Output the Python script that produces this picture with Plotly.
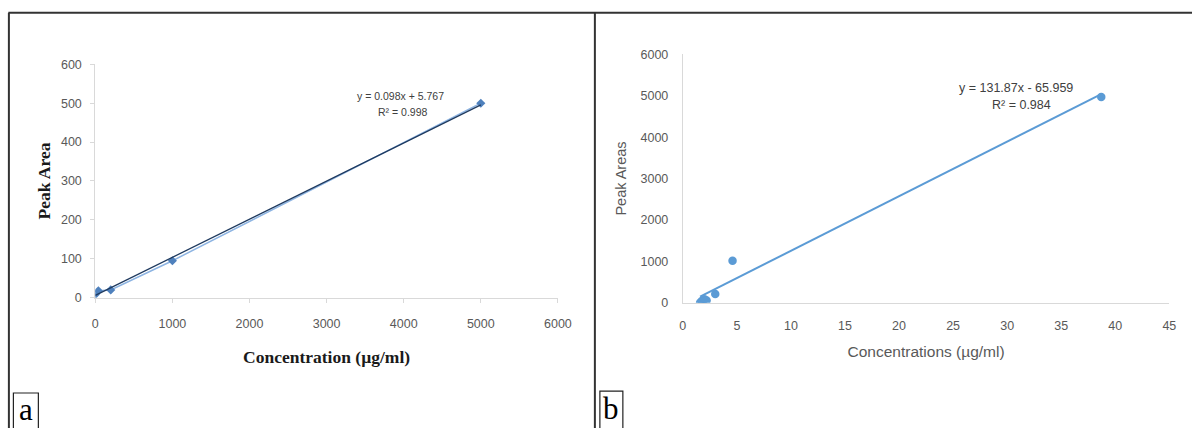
import plotly.graph_objects as go

W, H = 1192, 428

# Panel a data
conc_a = [0, 40, 200, 1000, 5000]
area_a = [8, 18, 20, 95, 500]
slope_a, icpt_a = 0.098, 5.767
xtick_a = [0, 1000, 2000, 3000, 4000, 5000, 6000]
ytick_a = [0, 100, 200, 300, 400, 500, 600]

# Panel b data
conc_b = [1.6, 1.75, 2.0, 2.2, 3.0, 4.6, 38.7]
area_b = [0, 40, 80, 50, 210, 1010, 4970]
slope_b, icpt_b = 131.87, -65.959
xtick_b = [0, 5, 10, 15, 20, 25, 30, 35, 40, 45]
ytick_b = [0, 1000, 2000, 3000, 4000, 5000, 6000]

# screen-position correction for the capture
AX, BX = 2.6, 0.9866
AY, BY = 5.3, 0.974


def px(x):
    return (x - AX) / BX / W


def py(y):
    return 1 - (y - AY) / BY / H


fig = go.Figure()

# Panel a: data series with diamonds
fig.add_trace(go.Scatter(
    x=conc_a, y=area_a, mode="lines+markers", xaxis="x", yaxis="y",
    line=dict(color="#8DB4E2", width=1.5),
    marker=dict(symbol="diamond", size=7, color="#4F81BD"),
    showlegend=False, name="Peak Area"))
# Panel a: trendline
tx_a = [min(conc_a), max(conc_a)]
fig.add_trace(go.Scatter(
    x=tx_a, y=[slope_a * v + icpt_a for v in tx_a], mode="lines",
    xaxis="x", yaxis="y", line=dict(color="#1F3A5F", width=1.3),
    showlegend=False, name="Linear"))

# Panel b: scatter
fig.add_trace(go.Scatter(
    x=conc_b, y=area_b, mode="markers", xaxis="x2", yaxis="y2",
    marker=dict(symbol="circle", size=8.5, color="#5B9BD5"),
    showlegend=False, name="Peak Areas"))
tx_b = [min(conc_b), max(conc_b)]
fig.add_trace(go.Scatter(
    x=tx_b, y=[slope_b * v + icpt_b for v in tx_b], mode="lines",
    xaxis="x2", yaxis="y2", line=dict(color="#5B9BD5", width=2),
    showlegend=False, name="Linear (Peak Areas)"))

tickfont = dict(family="Liberation Sans", size=12.5, color="#595959")
axis_common = dict(showgrid=False, zeroline=False, showline=True,
                   linecolor="#D9D9D9", linewidth=1, tickfont=tickfont)

fig.update_layout(
    autosize=True, margin=dict(l=0, r=0, t=0, b=0),
    paper_bgcolor="white", plot_bgcolor="white",
    xaxis=dict(domain=[px(95), px(558)], range=[0, 6000], tickvals=xtick_a,
               anchor="y", ticks="outside", ticklen=4, tickcolor="#D9D9D9",
               ticklabelstandoff=10,
               title=dict(text="Concentration (µg/ml)", standoff=21,
                          font=dict(family="Liberation Serif", size=17.5,
                                    color="#1a1a1a", weight="bold")),
               **axis_common),
    yaxis=dict(domain=[py(298), py(63)], range=[0, 600], tickvals=ytick_a,
               anchor="x", ticks="outside", ticklen=4, tickcolor="#D9D9D9",
               ticklabelstandoff=6,
               title=dict(text="Peak Area", standoff=5,
                          font=dict(family="Liberation Serif", size=17.5,
                                    color="#1a1a1a", weight="bold")),
               **axis_common),
    xaxis2=dict(domain=[px(683), px(1170)], range=[0, 45], tickvals=xtick_b,
                anchor="y2", ticks="", ticklabelstandoff=11,
                title=dict(text="Concentrations (µg/ml)", standoff=14,
                           font=dict(family="Liberation Sans", size=15.5,
                                     color="#595959")),
                **axis_common),
    yaxis2=dict(domain=[py(303), py(53)], range=[0, 6000], tickvals=ytick_b,
                anchor="x2", ticks="", ticklabelstandoff=11,
                title=dict(text="Peak Areas", standoff=10,
                           font=dict(family="Liberation Sans", size=14.5,
                                     color="#595959")),
                **axis_common),
)

anchors = dict(xref="paper", yref="paper", showarrow=False,
               xanchor="center", yanchor="middle")
anna = dict(family="Liberation Sans", size=10.5, color="#404040")
annb = dict(family="Liberation Sans", size=12.5, color="#404040")
fig.add_annotation(x=px(400), y=py(95), text="y = 0.098x + 5.767",
                   font=anna, **anchors)
fig.add_annotation(x=px(402), y=py(111), text="R² = 0.998",
                   font=anna, **anchors)
fig.add_annotation(x=px(1016), y=py(87), text="y = 131.87x - 65.959",
                   font=annb, **anchors)
fig.add_annotation(x=px(1022), y=py(104), text="R² = 0.984",
                   font=annb, **anchors)

# Panel labels
labfont = dict(family="Liberation Serif", size=31, color="black")
fig.add_annotation(x=px(25.5), y=py(411), text="a", font=labfont, **anchors)
fig.add_annotation(x=px(611.5), y=py(410), text="b", font=labfont, **anchors)

frame = dict(color="#333333", width=2)
shapes = [
    dict(type="line", xref="paper", yref="paper", x0=px(8), x1=px(1200),
         y0=py(11), y1=py(11), line=frame),
    dict(type="line", xref="paper", yref="paper", x0=px(8.5), x1=px(8.5),
         y0=py(11), y1=py(440), line=frame),
    dict(type="line", xref="paper", yref="paper", x0=px(595), x1=px(595),
         y0=py(11), y1=py(440), line=frame),
    dict(type="rect", xref="paper", yref="paper", x0=px(13), x1=px(38),
         y0=py(394), y1=py(445), line=dict(color="#222222", width=1.2)),
    dict(type="rect", xref="paper", yref="paper", x0=px(600), x1=px(623),
         y0=py(392), y1=py(445), line=dict(color="#222222", width=1.2)),
]
fig.update_layout(shapes=shapes)

fig.write_html(
    "out.html",
    config={"displayModeBar": False, "responsive": True},
    default_width="100vw", default_height="100vh",
    post_script="document.documentElement.style.overflow='hidden';"
                "document.body.style.margin='0';"
                "document.body.style.overflow='hidden';"
                "Plotly.Plots.resize(document.getElementById('{plot_id}'));")
